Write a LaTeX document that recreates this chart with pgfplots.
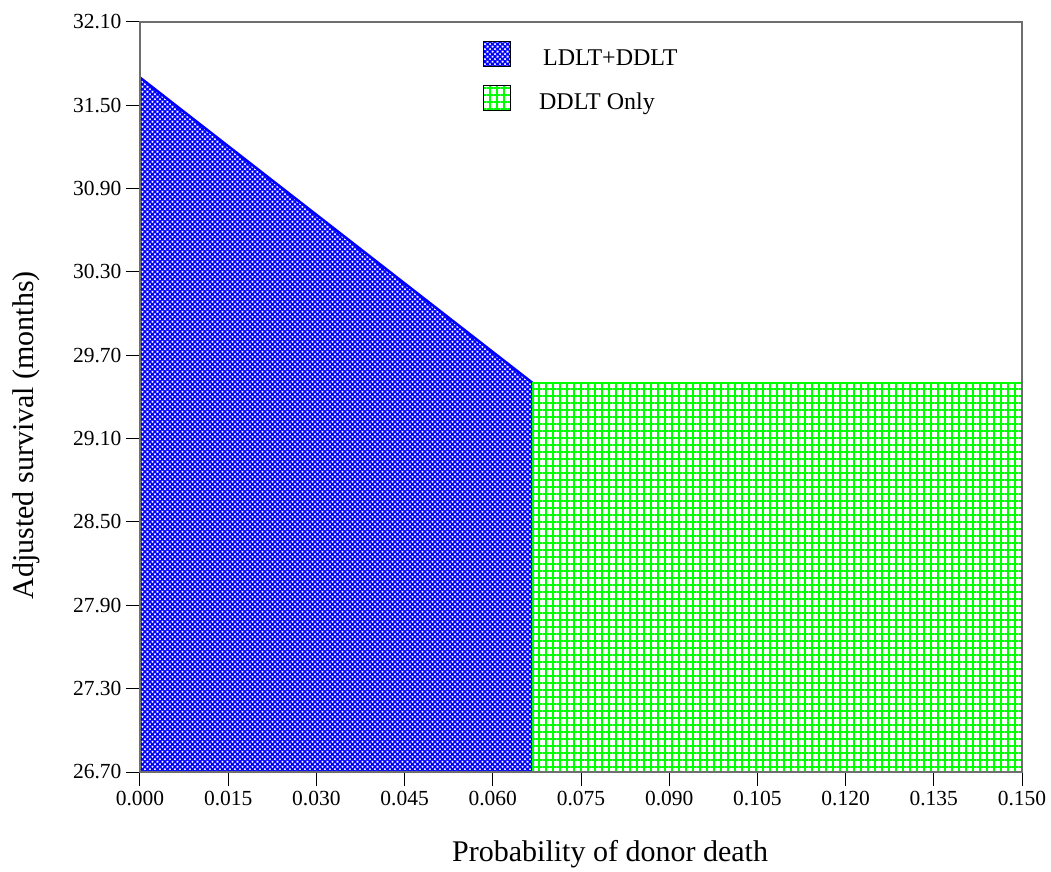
\documentclass[border=0pt]{standalone}
\usepackage{pgfplots}
\pgfplotsset{compat=1.18}
\usepackage{fontspec}
\setmainfont{Liberation Serif}
\usetikzlibrary{patterns.meta}
\definecolor{frame}{RGB}{110,110,110}
\begin{document}
\begin{tikzpicture}
\path (-140bp,-95bp) rectangle (911bp,772bp);
\begin{axis}[
  at={(0,0)}, anchor=south west,
  scale only axis, width=882bp, height=750bp,
  xmin=0, xmax=0.150, ymin=26.70, ymax=32.10,
  axis on top,
  axis line style={frame, line width=1.2bp},
  /pgf/number format/assume math mode=true,
  xtick={0,0.015,0.030,0.045,0.060,0.075,0.090,0.105,0.120,0.135,0.150},
  ytick={26.70,27.30,27.90,28.50,29.10,29.70,30.30,30.90,31.50,32.10},
  xticklabels={0.000,0.015,0.030,0.045,0.060,0.075,0.090,0.105,0.120,0.135,0.150},
  yticklabels={26.70,27.30,27.90,28.50,29.10,29.70,30.30,30.90,31.50,32.10},
  tick align=outside, xtick pos=bottom, ytick pos=left,
  major tick length=14bp,
  tick style={black, line width=1bp},
  ticklabel style={font=\fontsize{21.5bp}{26bp}\selectfont},
  xticklabel style={yshift=-2bp},
  yticklabel style={xshift=-1bp},
  xlabel={Probability of donor death},
  ylabel={Adjusted survival (months)},
  label style={font=\fontsize{30bp}{36bp}\selectfont},
  xlabel style={at={(axis description cs:0.533,-0.12)}, anchor=base},
  ylabel style={at={(axis description cs:-0.1213,0.449)}, anchor=base, rotate=0},
  legend style={at={(axis description cs:0.389,0.975)}, anchor=north west,
    draw=none, fill=none, inner sep=0pt, row sep=18bp,
    font=\fontsize{24bp}{28bp}\selectfont,
    nodes={inner sep=0pt, text depth=0pt}},
  legend cell align=left,
  legend image code/.code={\draw[#1, draw=black, line width=0.8bp] (0bp,-9bp) rectangle (27bp,16bp);},
  every axis legend/.append style={column sep=0bp},
]
\addplot[draw=blue, line width=2.5bp, pattern={Hatch[angle=45,distance=3.536bp,line width=1.6bp]}, pattern color=blue]
  coordinates {(0,26.70) (0,31.70) (0.0668,29.50) (0.0668,26.70)} -- cycle;
\addlegendentry{\hspace{32bp}LDLT+DDLT}
\addplot[draw=green, line width=2.5bp, pattern={Hatch[angle=0,distance=7bp,line width=1.6bp]}, pattern color=green]
  coordinates {(0.0668,26.70) (0.0668,29.50) (0.150,29.50) (0.150,26.70)} -- cycle;
\addlegendentry{\hspace{28bp}DDLT Only}
\end{axis}
\end{tikzpicture}
\end{document}
